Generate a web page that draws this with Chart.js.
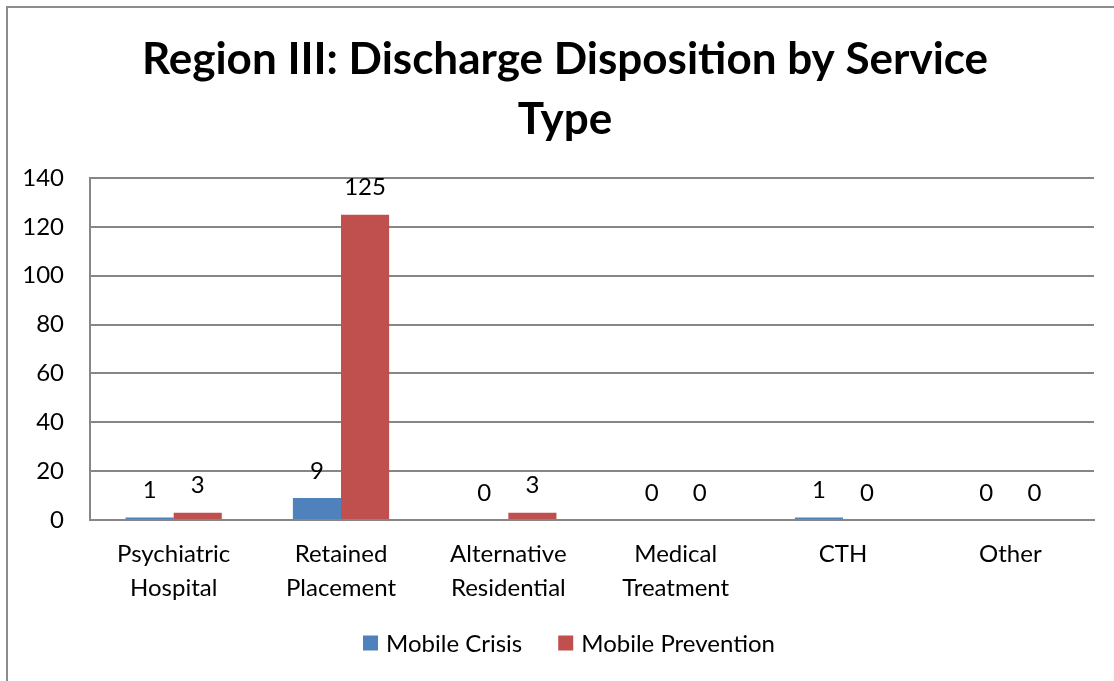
<!DOCTYPE html>
<html>
<head>
<meta charset="utf-8">
<script src="https://cdn.jsdelivr.net/npm/chart.js@4.4.0/dist/chart.umd.min.js"></script>
<style>
  html, body { margin: 0; padding: 0; background: #fff; overflow: hidden; }
  #wrap { position: absolute; left: 0; top: 0; width: 1114px; height: 681px; }
</style>
</head>
<body>
<div id="wrap"><canvas id="chart"></canvas></div>
<script>
// data
const categories = [
    ['Psychiatric', 'Hospital'],
    ['Retained', 'Placement'],
    ['Alternative', 'Residential'],
    ['Medical', 'Treatment'],
    'CTH',
    'Other'
];
const mobileCrisis = [1, 9, 0, 0, 1, 0];
const mobilePrevention = [3, 125, 3, 0, 0, 0];
const yTicks = [0, 20, 40, 60, 80, 100, 120, 140];

const FONT = 'Lato, "Open Sans", sans-serif';
const GRID = '#868686';

// outer frame like the office chart border
const framePlugin = {
    id: 'frame',
    beforeDraw(chart) {
        const ctx = chart.ctx;
        ctx.save();
        ctx.fillStyle = '#fff';
        ctx.fillRect(0, 0, chart.width, chart.height);
        ctx.strokeStyle = '#8c8c8c';
        ctx.lineWidth = 2;
        ctx.strokeRect(7, 7, chart.width + 10, chart.height + 10);
        ctx.restore();
    }
};

// the original title is centred a bit right of the canvas centre
const titleShift = {
    id: 'titleShift',
    afterLayout(chart) {
        const t = chart.titleBlock;
        if (t) {
            t.left = 36;
            t.width = t.right - t.left;
        }
    }
};

// value labels above each bar
const valueLabels = {
    id: 'valueLabels',
    afterDatasetsDraw(chart) {
        const ctx = chart.ctx;
        ctx.save();
        ctx.font = '24px ' + FONT;
        ctx.fillStyle = '#000';
        ctx.textAlign = 'center';
        ctx.textBaseline = 'middle';
        chart.data.datasets.forEach((ds, i) => {
            chart.getDatasetMeta(i).data.forEach((bar, j) => {
                ctx.fillText(ds.data[j], bar.x, bar.y - 27);
            });
        });
        ctx.restore();
    }
};

// legend drawn by hand so the item spacing can match the office look
const bottomLegend = {
    id: 'bottomLegend',
    afterDraw(chart) {
        const ctx = chart.ctx;
        const box = 15, gap = 8, itemGap = 36;
        ctx.save();
        ctx.font = '24px ' + FONT;
        ctx.textBaseline = 'middle';
        ctx.textAlign = 'left';
        const items = chart.data.datasets.map(ds => ({
            text: ds.label,
            color: ds.backgroundColor,
            w: box + gap + ctx.measureText(ds.label).width
        }));
        const total = items.reduce((s, it) => s + it.w, 0) + itemGap * (items.length - 1);
        const cy = 644;
        let x = 569 - total / 2;
        items.forEach(it => {
            ctx.fillStyle = it.color;
            ctx.fillRect(x, cy - box / 2 - 1, box, box);
            ctx.fillStyle = '#000';
            ctx.fillText(it.text, x + box + gap, cy);
            x += it.w + itemGap;
        });
        ctx.restore();
    }
};

new Chart(document.getElementById('chart'), {
    type: 'bar',
    data: {
        labels: categories,
        datasets: [
            { label: 'Mobile Crisis', data: mobileCrisis, backgroundColor: '#4F81BD' },
            { label: 'Mobile Prevention', data: mobilePrevention, backgroundColor: '#C0504D' }
        ]
    },
    options: {
        responsive: true,
        maintainAspectRatio: false,
        animation: false,
        layout: { padding: { left: 0, right: 20, top: 0, bottom: 59 } },
        datasets: { bar: { categoryPercentage: 0.575, barPercentage: 1 } },
        plugins: {
            title: {
                display: true,
                text: ['Region III: Discharge Disposition by Service', 'Type'],
                color: '#000',
                font: { family: FONT, size: 44, weight: 'bold', lineHeight: 1.364 },
                padding: { top: 30, bottom: 28 }
            },
            legend: { display: false },
            tooltip: { enabled: false }
        },
        scales: {
            x: {
                grid: { display: false, drawTicks: false },
                border: { color: GRID, width: 2 },
                ticks: {
                    color: '#000',
                    font: { family: FONT, size: 24, lineHeight: 1.417 },
                    padding: 17,
                    maxRotation: 0,
                    autoSkip: false
                }
            },
            y: {
                min: 0,
                max: 140,
                afterBuildTicks(scale) {
                    scale.ticks = yTicks.map(v => ({ value: v }));
                },
                afterFit(scale) { scale.width = 90; },
                grid: { color: GRID, lineWidth: 2, drawTicks: false },
                border: { color: GRID, width: 2 },
                ticks: {
                    color: '#000',
                    font: { family: FONT, size: 24 },
                    padding: 26
                }
            }
        }
    },
    plugins: [framePlugin, titleShift, valueLabels, bottomLegend]
});
</script>
</body>
</html>
